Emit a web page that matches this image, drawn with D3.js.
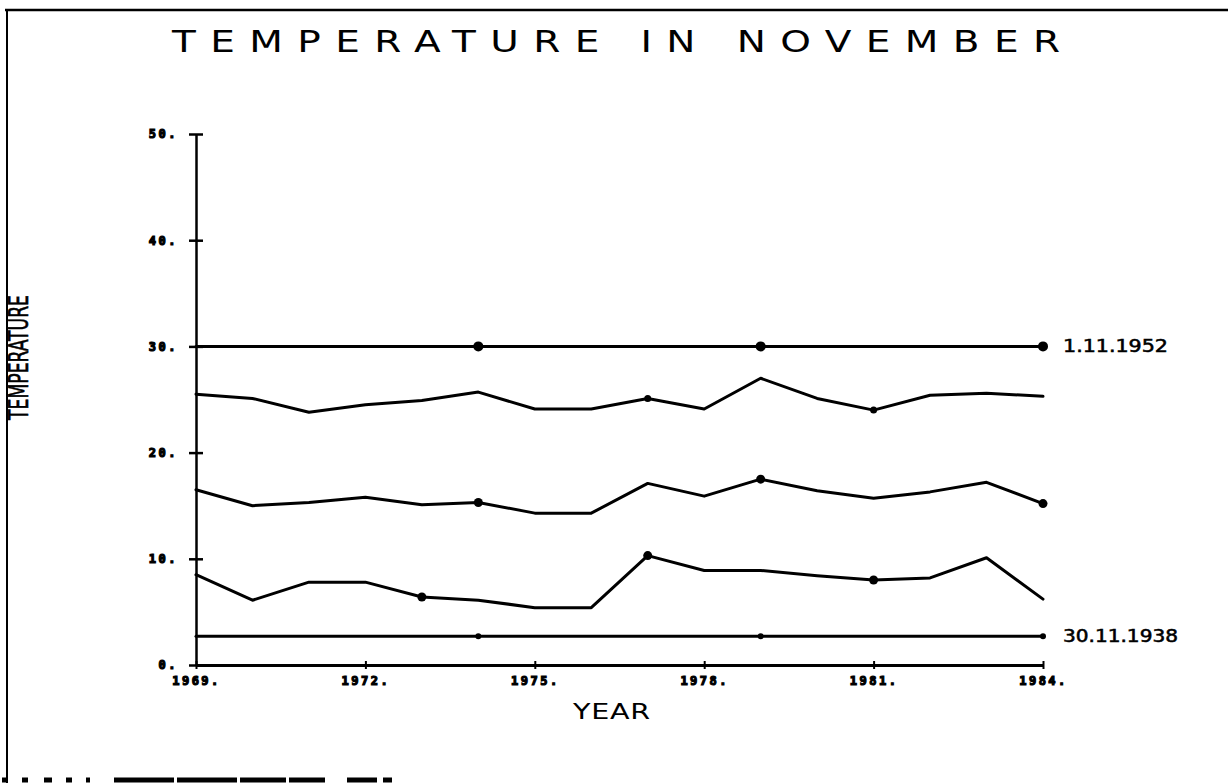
<!DOCTYPE html>
<html>
<head>
<meta charset="utf-8">
<script src="https://cdn.jsdelivr.net/npm/d3@7"></script>
<style>
  body { margin: 0; background: #fff; }
  svg { display: block; }
</style>
</head>
<body>
<svg id="chart" width="1228" height="783"></svg>
<script>
// November temperatures, one value per year
const years = [1969, 1970, 1971, 1972, 1973, 1974, 1975, 1976, 1977, 1978, 1979, 1980, 1981, 1982, 1983, 1984];
const maxTemp  = [25.5, 25.1, 23.8, 24.5, 24.9, 25.7, 24.1, 24.1, 25.1, 24.1, 27.0, 25.1, 24.0, 25.4, 25.6, 25.3];
const meanTemp = [16.5, 15.0, 15.3, 15.8, 15.1, 15.3, 14.3, 14.3, 17.1, 15.9, 17.5, 16.4, 15.7, 16.3, 17.2, 15.2];
const minTemp  = [8.5, 6.1, 7.8, 7.8, 6.4, 6.1, 5.4, 5.4, 10.3, 8.9, 8.9, 8.4, 8.0, 8.2, 10.1, 6.2];

// record values for the month
const recordHigh = 30.0, recordHighDate = "1.11.1952";
const recordLow = 2.7, recordLowDate = "30.11.1938";

// years carrying a plotted marker on each curve
const maxMarks = [1977, 1981];
const meanMarks = [1974, 1979, 1984];
const minMarks = [1973, 1977, 1981];
const recordMarks = [1974, 1979, 1984];

const yTicks = [0, 10, 20, 30, 40, 50];
const xTicks = [1969, 1972, 1975, 1978, 1981, 1984];

const svg = d3.select("#chart");

const x = d3.scaleLinear().domain([1969, 1984]).range([196, 1043]);
const y = d3.scaleLinear().domain([0, 50]).range([665, 134]);

// page frame
svg.append("line").attr("x1", 5).attr("x2", 1228).attr("y1", 10).attr("y2", 10)
  .attr("stroke", "#000").attr("stroke-width", 2.5);
svg.append("line").attr("x1", 7).attr("x2", 7).attr("y1", 9).attr("y2", 783)
  .attr("stroke", "#000").attr("stroke-width", 2);
svg.append("line").attr("x1", 2).attr("x2", 392).attr("y1", 780).attr("y2", 780)
  .attr("stroke", "#000").attr("stroke-width", 5)
  .attr("stroke-dasharray", "6 14 6 16 8 14 6 14 4 24 60 3 60 3 46 3 36 22 30");

// title, in a wide plotter-like lettering
const titleScale = 1.3;
svg.append("text")
  .attr("transform", `translate(172,52) scale(${titleScale},1)`)
  .attr("textLength", 888 / titleScale).attr("lengthAdjust", "spacing")
  .style("font-family", "'DejaVu Sans', sans-serif")
  .style("font-size", "30px")
  .attr("fill", "#000")
  .text("TEMPERATURE IN NOVEMBER");

// axis titles
svg.append("text")
  .attr("transform", `translate(573,719) scale(${titleScale},1)`)
  .attr("textLength", 77 / titleScale).attr("lengthAdjust", "spacing")
  .style("font-family", "'DejaVu Sans', sans-serif")
  .style("font-size", "22px")
  .attr("fill", "#000")
  .text("YEAR");

svg.append("text")
  .attr("transform", "translate(28,420) rotate(-90)")
  .attr("textLength", 125).attr("lengthAdjust", "spacingAndGlyphs")
  .style("font-family", "'Liberation Sans Narrow', 'DejaVu Sans Condensed', sans-serif")
  .style("font-size", "27px")
  .attr("fill", "#000")
  .attr("stroke", "#000").attr("stroke-width", 0.6)
  .text("TEMPERATURE");

// axes
const tickFont = "'DejaVu Sans Mono', monospace";
function styleTickText(sel) {
  sel.style("font-family", tickFont).style("font-size", "12px").style("font-weight", "bold")
    .style("letter-spacing", "2.5px").attr("fill", "#000")
    .attr("stroke", "#000").attr("stroke-width", 1.2);
}

const yAxis = svg.append("g")
  .attr("transform", `translate(${x(1969)},0)`)
  .call(d3.axisLeft(y).tickValues(yTicks).tickSize(7).tickSizeOuter(0).tickPadding(11)
    .tickFormat(d => d + "."));
yAxis.select(".domain").attr("stroke", "#000").attr("stroke-width", 2.5);
yAxis.selectAll(".tick line").attr("x1", -7).attr("x2", 7).attr("stroke", "#000").attr("stroke-width", 2.5);
yAxis.selectAll(".tick text").call(styleTickText);

const xAxis = svg.append("g")
  .attr("transform", `translate(0,${y(0)})`)
  .call(d3.axisBottom(x).tickValues(xTicks).tickSize(4).tickSizeOuter(0).tickPadding(7)
    .tickFormat(d => d + "."));
xAxis.select(".domain").attr("stroke", "#000").attr("stroke-width", 3);
xAxis.selectAll(".tick line").attr("y1", -4).attr("y2", 4).attr("stroke", "#000").attr("stroke-width", 2);
xAxis.selectAll(".tick text").call(styleTickText);

// curves
const line = d3.line().x(d => x(d[0])).y(d => y(d[1]));
const plot = svg.append("g").attr("fill", "none").attr("stroke", "#000")
  .attr("stroke-width", 3).attr("stroke-linejoin", "round").attr("stroke-linecap", "round");

function drawSeries(values, marks, r) {
  const pts = years.map((yr, i) => [yr, values[i]]);
  plot.append("path").attr("d", line(pts));
  svg.append("g").selectAll("circle")
    .data(pts.filter(p => marks.includes(p[0])))
    .join("circle")
    .attr("cx", d => x(d[0])).attr("cy", d => y(d[1])).attr("r", r)
    .attr("fill", "#000");
}

drawSeries(years.map(() => recordHigh), recordMarks, 5);
drawSeries(maxTemp, maxMarks, 3.5);
drawSeries(meanTemp, meanMarks, 4.5);
drawSeries(minTemp, minMarks, 4.5);
drawSeries(years.map(() => recordLow), recordMarks, 3);

// record dates next to the flat lines
const dateLabels = [[recordHigh, recordHighDate, 105], [recordLow, recordLowDate, 115]];
svg.append("g").selectAll("text")
  .data(dateLabels)
  .join("text")
  .attr("x", 1063)
  .attr("y", d => y(d[0]) + 6)
  .attr("textLength", d => d[2]).attr("lengthAdjust", "spacingAndGlyphs")
  .style("font-family", "'Liberation Sans Narrow', 'DejaVu Sans Condensed', sans-serif")
  .style("font-size", "17px")
  .attr("fill", "#000")
  .attr("stroke", "#000").attr("stroke-width", 0.5)
  .text(d => d[1]);
</script>
</body>
</html>
